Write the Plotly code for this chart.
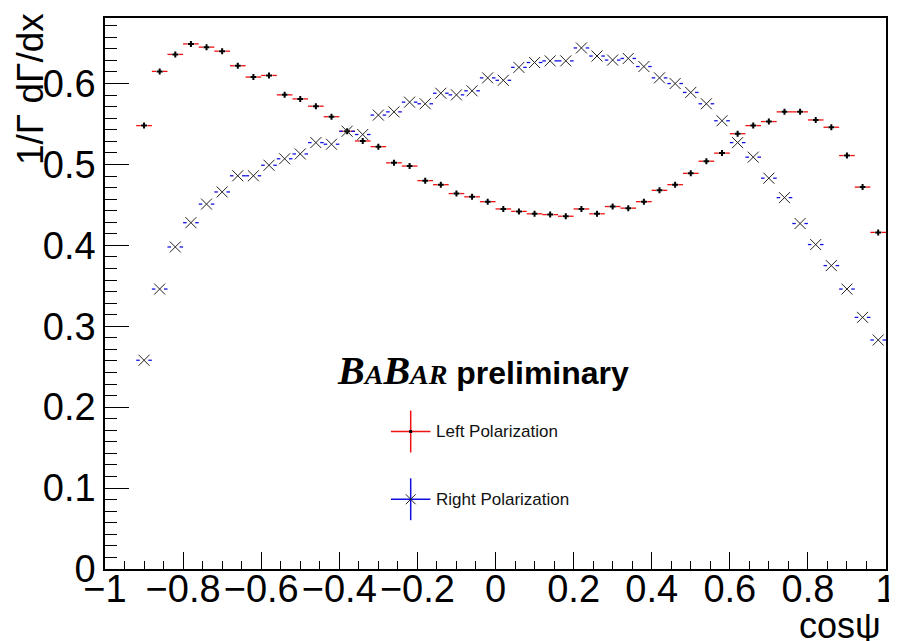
import plotly.graph_objects as go

# ---------------- data ----------------
cos_psi = [-0.90, -0.86, -0.82, -0.78, -0.74, -0.70, -0.66, -0.62, -0.58, -0.54,
           -0.50, -0.46, -0.42, -0.38, -0.34, -0.30, -0.26, -0.22, -0.18, -0.14,
           -0.10, -0.06, -0.02, 0.02, 0.06, 0.10, 0.14, 0.18, 0.22, 0.26,
           0.30, 0.34, 0.38, 0.42, 0.46, 0.50, 0.54, 0.58, 0.62, 0.66,
           0.70, 0.74, 0.78, 0.82, 0.86, 0.90, 0.94, 0.98]

left_pol = [0.548, 0.615, 0.636, 0.649, 0.645, 0.640, 0.622, 0.608, 0.610, 0.586,
            0.581, 0.572, 0.559, 0.541, 0.529, 0.522, 0.502, 0.498, 0.480, 0.475,
            0.464, 0.460, 0.454, 0.445, 0.442, 0.439, 0.438, 0.436, 0.445, 0.439,
            0.448, 0.446, 0.454, 0.468, 0.475, 0.489, 0.504, 0.514, 0.538, 0.548,
            0.553, 0.565, 0.565, 0.555, 0.546, 0.511, 0.472, 0.416]

right_pol = [0.258, 0.346, 0.398, 0.428, 0.451, 0.466, 0.486, 0.486, 0.499, 0.507,
             0.513, 0.527, 0.525, 0.541, 0.537, 0.561, 0.565, 0.577, 0.575, 0.588,
             0.586, 0.591, 0.607, 0.604, 0.620, 0.626, 0.628, 0.628, 0.644, 0.634,
             0.629, 0.631, 0.621, 0.607, 0.600, 0.589, 0.575, 0.554, 0.527, 0.509,
             0.483, 0.459, 0.427, 0.401, 0.375, 0.346, 0.311, 0.283]

bin_half_width = 0.02
series_names = ["Left Polarization", "Right Polarization"]
x_tick_vals = [-1, -0.8, -0.6, -0.4, -0.2, 0, 0.2, 0.4, 0.6, 0.8, 1]
x_tick_text = ["\u22121", "\u22120.8", "\u22120.6", "\u22120.4", "\u22120.2", "0",
               "0.2", "0.4", "0.6", "0.8", "1"]
y_tick_vals = [0, 0.1, 0.2, 0.3, 0.4, 0.5, 0.6]
y_tick_text = ["0", "0.1", "0.2", "0.3", "0.4", "0.5", "0.6"]

FONT = "Liberation Sans, Arial, Helvetica, sans-serif"
RED = "#f01010"
BLUE = "#1010e0"


def bar_segments(xs, ys, half, gap):
    sx, sy = [], []
    for x, y in zip(xs, ys):
        sx += [x - half, x - gap, None, x + gap, x + half, None]
        sy += [y, y, None, y, y, None]
    return sx, sy


fig = go.Figure()

# Left polarization: red horizontal bin bars + black small plus
lx, ly = bar_segments(cos_psi, left_pol, bin_half_width, 0.0085)
fig.add_trace(go.Scatter(x=lx, y=ly, mode="lines", line=dict(color=RED, width=1.3),
                         hoverinfo="skip", showlegend=False))
fig.add_trace(go.Scatter(x=cos_psi, y=left_pol, mode="markers", name=series_names[0],
                         marker=dict(symbol="cross", size=5, color="black"),
                         showlegend=False))

# Right polarization: blue horizontal bin bars + black X
rx, ry = bar_segments(cos_psi, right_pol, bin_half_width, 0.011)
fig.add_trace(go.Scatter(x=rx, y=ry, mode="lines", line=dict(color=BLUE, width=1.3),
                         hoverinfo="skip", showlegend=False))
fig.add_trace(go.Scatter(x=cos_psi, y=right_pol, mode="markers", name=series_names[1],
                         marker=dict(symbol="x-thin", size=11,
                                     line=dict(width=1, color="#222222")),
                         showlegend=False))

# ---------------- layout ----------------
W, H = 897, 641
L, R, T, B = 97, 8, 8, 80
pw, ph = W - L - R, H - T - B


def px2paper(px, py):
    return (px - L) / pw, (H - B - py) / ph


shapes = []
annotations = []

# legend crosses
for (cx, cy), col, txt in [((407, 423), RED, series_names[0]),
                            ((407, 491), BLUE, series_names[1])]:
    x0, y0 = px2paper(cx - 20, cy)
    x1, _ = px2paper(cx + 20, cy)
    shapes.append(dict(type="line", xref="paper", yref="paper", x0=x0, y0=y0, x1=x1, y1=y0,
                       line=dict(color=col, width=1.5)))
    xv, yv0 = px2paper(cx, cy - 21)
    _, yv1 = px2paper(cx, cy + 21)
    shapes.append(dict(type="line", xref="paper", yref="paper", x0=xv, y0=yv0, x1=xv, y1=yv1,
                       line=dict(color=col, width=1.5)))
    tx, ty = px2paper(cx + 24, cy)
    annotations.append(dict(text=txt, x=tx, y=ty, xref="paper", yref="paper",
                            xanchor="left", yanchor="middle", showarrow=False,
                            font=dict(family=FONT, size=17, color="#111")))

# legend markers: small dot for left, X for right
dx0, dy0 = px2paper(405.5, 421.5)
dx1, dy1 = px2paper(408.5, 424.5)
shapes.append(dict(type="rect", xref="paper", yref="paper", x0=dx0, y0=dy0, x1=dx1, y1=dy1,
                   fillcolor="black", line=dict(width=0)))
for (ax, ay, bx, by) in [(402, 486, 412, 496), (402, 496, 412, 486)]:
    a0, a1 = px2paper(ax, ay)
    b0, b1 = px2paper(bx, by)
    shapes.append(dict(type="line", xref="paper", yref="paper", x0=a0, y0=a1, x1=b0, y1=b1,
                       line=dict(color="#222", width=1)))

# BaBar preliminary
bx, by = px2paper(480, 362)
serif_big = "font-family:Liberation Serif;font-style:italic;font-weight:bold;font-size:40px"
serif_small = "font-family:Liberation Serif;font-style:italic;font-weight:bold;font-size:28px"
babar = (f'<span style="{serif_big}">B</span><span style="{serif_small}">A</span>'
         f'<span style="{serif_big}">B</span><span style="{serif_small}">AR</span>'
         ' <b>preliminary</b>')
annotations.append(dict(text=babar, x=bx, y=by, xref="paper", yref="paper",
                        xanchor="center", yanchor="middle", showarrow=False,
                        font=dict(family=FONT, size=32, color="black")))

# axis titles (ROOT style, aligned to axis ends)
yt_x, yt_y = px2paper(21, 1)
annotations.append(dict(text="1/\u0393 d\u0393/dx", x=yt_x, y=yt_y, xref="paper", yref="paper",
                        xanchor="center", yanchor="top", textangle=-90, showarrow=False,
                        font=dict(family=FONT, size=37, color="black")))
xt_x, xt_y = px2paper(886, 618)
annotations.append(dict(text="cos\u03c8", x=xt_x, y=xt_y, xref="paper", yref="paper",
                        xanchor="right", yanchor="middle", showarrow=False,
                        font=dict(family=FONT, size=36, color="black")))

fig.update_layout(
    width=W, height=H,
    margin=dict(l=L, r=R, t=T, b=B, pad=0),
    paper_bgcolor="white", plot_bgcolor="white",
    showlegend=False,
    shapes=shapes, annotations=annotations,
    font=dict(family=FONT, color="black"),
    xaxis=dict(range=[-1, 1], showgrid=False, zeroline=False,
               showline=True, mirror=True, linecolor="black", linewidth=1.5,
               ticks="inside", ticklen=17, tickwidth=1, tickcolor="black",
               tickvals=x_tick_vals, ticktext=x_tick_text, tickangle=0,
               ticklabelstandoff=-14, ticklabeloverflow="allow",
               tickfont=dict(family=FONT, size=38, color="black"),
               minor=dict(dtick=0.05, tick0=0, ticks="inside", ticklen=8,
                          tickwidth=1, tickcolor="black", showgrid=False)),
    yaxis=dict(range=[0, 0.681], showgrid=False, zeroline=False,
               showline=True, mirror=True, linecolor="black", linewidth=1.5,
               ticks="inside", ticklen=24, tickwidth=1, tickcolor="black",
               tickvals=y_tick_vals, ticktext=y_tick_text, tickangle=0,
               ticklabeloverflow="allow",
               tickfont=dict(family=FONT, size=38, color="black"),
               minor=dict(dtick=0.1 / 7, tick0=0, ticks="inside", ticklen=12,
                          tickwidth=1, tickcolor="black", showgrid=False)),
)

fig.write_html("out.html")
